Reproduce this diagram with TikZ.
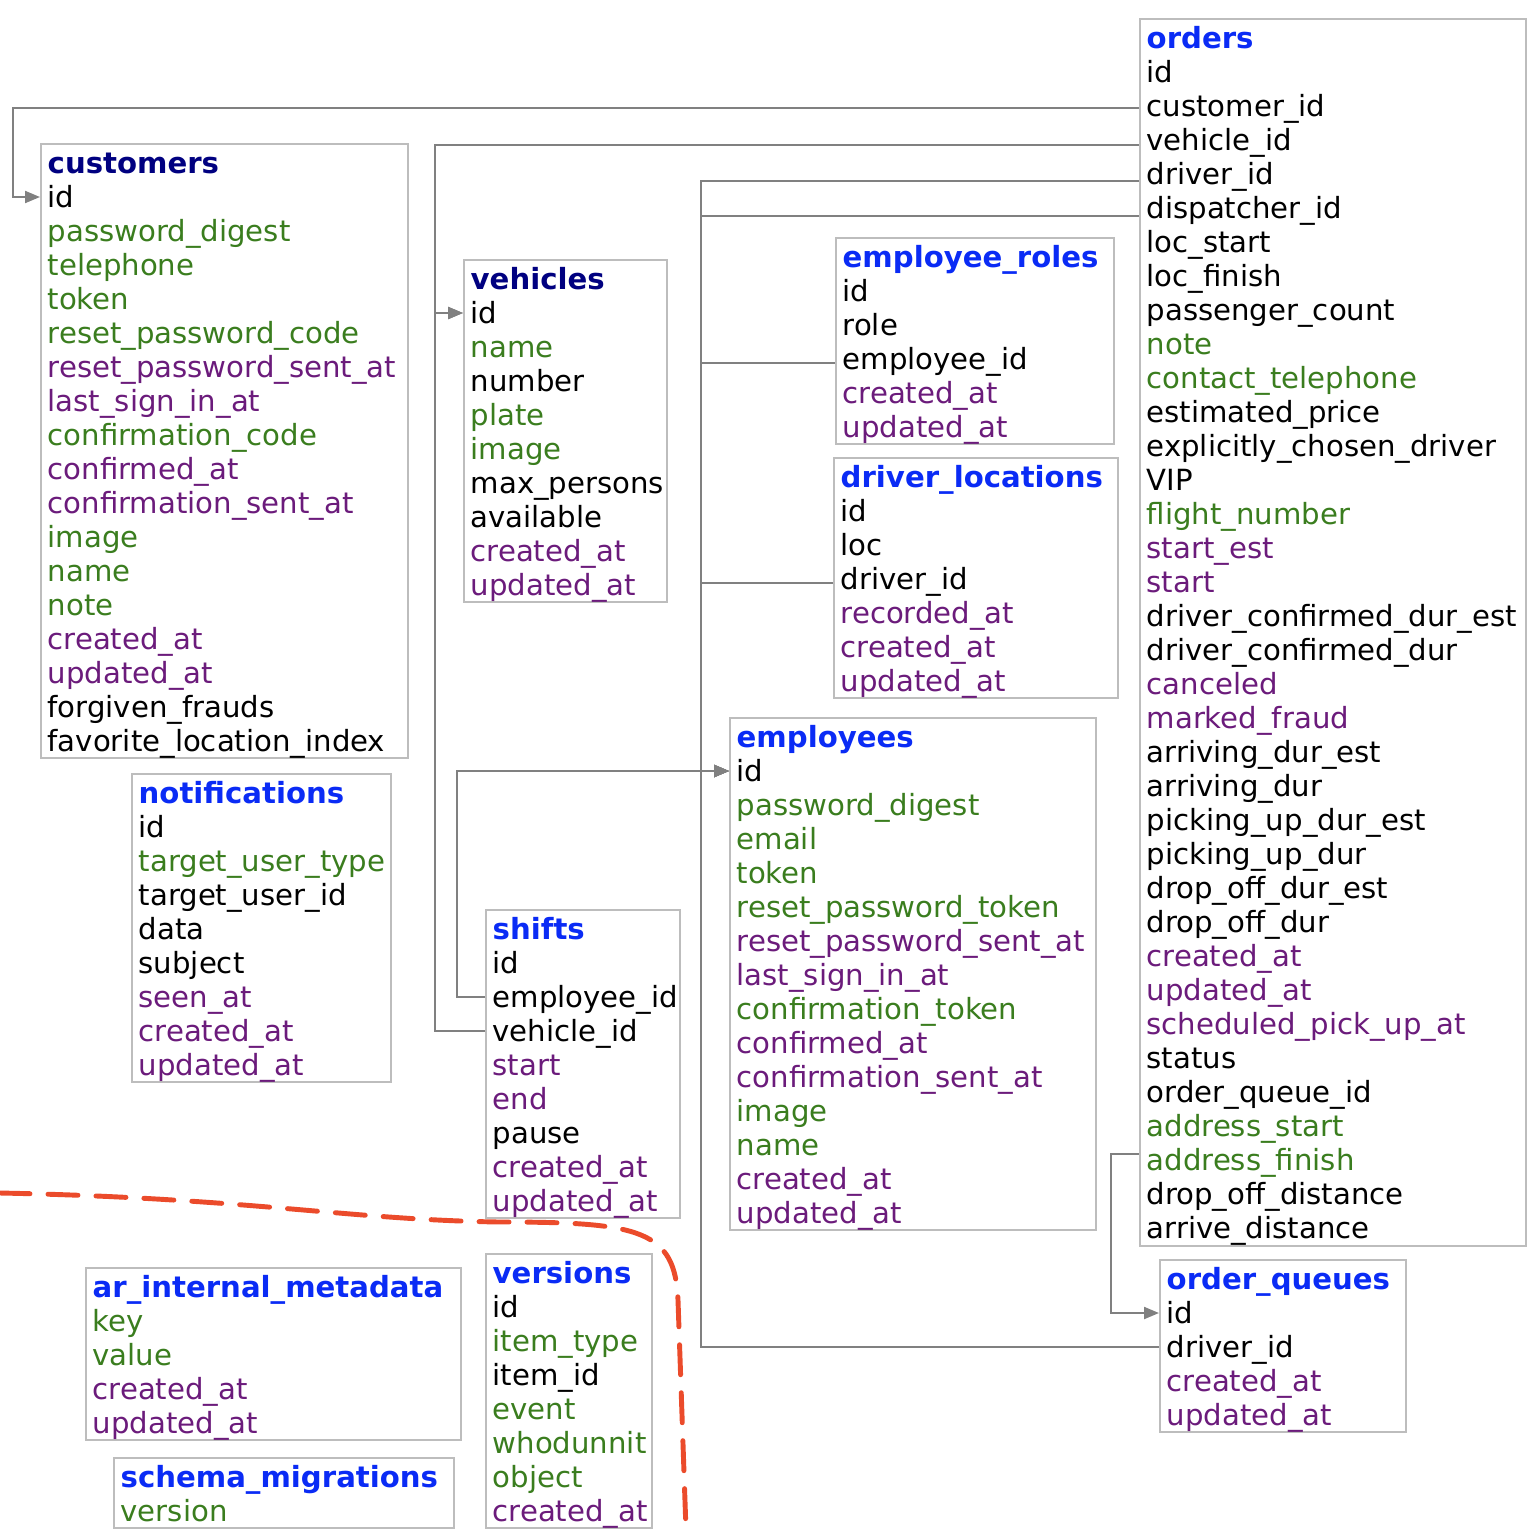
\documentclass[tikz,border=0pt]{standalone}
\usepackage{fontspec}
\setmainfont{DejaVu Sans}
\usepackage{xcolor}
\usepackage{tikz}
\usetikzlibrary{arrows.meta, calc}
\definecolor{bk}{HTML}{000000}
\definecolor{gn}{HTML}{3A7D1E}
\definecolor{pu}{HTML}{6B1B7B}
\definecolor{navy}{HTML}{000080}
\definecolor{tblue}{HTML}{0A2BF5}
\definecolor{boxgray}{HTML}{BDBDBD}
\definecolor{linkgray}{HTML}{808080}
\definecolor{cutred}{HTML}{EB4B2B}

% one table: name, left x, top y, width, height, title colour, fields
\newcommand{\erdtable}[7]{%
  \node[tablebox, minimum width=#4cm, minimum height=#5cm] (#1) at (#2,-#3) {};
  \node[fieldrow, text=#6, font=\fieldfont\bfseries] (#1-0) at ($(#1.north west)+(0.07,-0.20)$) {#1};
  \foreach \t/\c [count=\i] in {#7}
    \node[fieldrow, text=\c] (#1-\i) at ($(#1.north west)+(0.07,-0.20-0.34*\i)$) {\t};
}
\newcommand{\fieldfont}{\fontsize{8.3}{10}\selectfont}

\begin{document}
\catcode`\_=12
\begin{tikzpicture}[
  tablebox/.style={draw=boxgray, line width=0.6pt, anchor=north west, inner sep=0pt},
  fieldrow/.style={anchor=west, inner sep=0pt, text height=0.2cm, text depth=0cm, font=\fieldfont},
  link/.style={draw=linkgray, line width=0.6pt, -{Triangle[length=0.15cm, width=0.12cm]}},
  cutline/.style={draw=cutred, line width=1.4pt, dash pattern=on 0.3cm off 0.18cm, line cap=round}
]
  \useasboundingbox (0,0) rectangle (15.36,-15.38);

  \erdtable{orders}{11.39}{0.18}{3.86}{12.27}{tblue}{id/bk, customer_id/bk, vehicle_id/bk, driver_id/bk, dispatcher_id/bk, loc_start/bk, loc_finish/bk, passenger_count/bk, note/gn, contact_telephone/gn, estimated_price/bk, explicitly_chosen_driver/bk, VIP/bk, flight_number/gn, start_est/pu, start/pu, driver_confirmed_dur_est/bk, driver_confirmed_dur/bk, canceled/pu, marked_fraud/pu, arriving_dur_est/bk, arriving_dur/bk, picking_up_dur_est/bk, picking_up_dur/bk, drop_off_dur_est/bk, drop_off_dur/bk, created_at/pu, updated_at/pu, scheduled_pick_up_at/pu, status/bk, order_queue_id/bk, address_start/gn, address_finish/gn, drop_off_distance/bk, arrive_distance/bk}
  \erdtable{customers}{0.40}{1.43}{3.67}{6.14}{navy}{id/bk, password_digest/gn, telephone/gn, token/gn, reset_password_code/gn, reset_password_sent_at/pu, last_sign_in_at/pu, confirmation_code/gn, confirmed_at/pu, confirmation_sent_at/pu, image/gn, name/gn, note/gn, created_at/pu, updated_at/pu, forgiven_frauds/bk, favorite_location_index/bk}
  \erdtable{vehicles}{4.63}{2.59}{2.03}{3.42}{navy}{id/bk, name/gn, number/bk, plate/gn, image/gn, max_persons/bk, available/bk, created_at/pu, updated_at/pu}
  \erdtable{employee_roles}{8.35}{2.37}{2.78}{2.06}{tblue}{id/bk, role/bk, employee_id/bk, created_at/pu, updated_at/pu}
  \erdtable{driver_locations}{8.33}{4.57}{2.84}{2.40}{tblue}{id/bk, loc/bk, driver_id/bk, recorded_at/pu, created_at/pu, updated_at/pu}
  \erdtable{employees}{7.29}{7.17}{3.66}{5.12}{tblue}{id/bk, password_digest/gn, email/gn, token/gn, reset_password_token/gn, reset_password_sent_at/pu, last_sign_in_at/pu, confirmation_token/gn, confirmed_at/pu, confirmation_sent_at/pu, image/gn, name/gn, created_at/pu, updated_at/pu}
  \erdtable{notifications}{1.31}{7.73}{2.59}{3.08}{tblue}{id/bk, target_user_type/gn, target_user_id/bk, data/bk, subject/bk, seen_at/pu, created_at/pu, updated_at/pu}
  \erdtable{shifts}{4.85}{9.09}{1.94}{3.08}{tblue}{id/bk, employee_id/bk, vehicle_id/bk, start/pu, end/pu, pause/bk, created_at/pu, updated_at/pu}
  \erdtable{ar_internal_metadata}{0.85}{12.67}{3.75}{1.72}{tblue}{key/gn, value/gn, created_at/pu, updated_at/pu}
  \erdtable{schema_migrations}{1.13}{14.57}{3.40}{0.70}{tblue}{version/gn}
  \erdtable{versions}{4.85}{12.53}{1.66}{2.74}{tblue}{id/bk, item_type/gn, item_id/bk, event/gn, whodunnit/gn, object/gn, created_at/pu}
  \erdtable{order_queues}{11.59}{12.59}{2.46}{1.72}{tblue}{id/bk, driver_id/bk, created_at/pu, updated_at/pu}

  % foreign keys
  \draw[link] ([yshift=-0.02cm]orders.west |- orders-2) -| ([xshift=-0.27cm]customers.west |- customers-1) -- (customers.west |- customers-1);
  \draw[link] ([yshift=-0.05cm]orders.west |- orders-3) -| ([xshift=-0.28cm]vehicles.west |- vehicles-1) -- (vehicles.west |- vehicles-1);
  \draw[link] (shifts.west |- shifts-3) -| ([xshift=-0.28cm]vehicles.west |- vehicles-1) -- (vehicles.west |- vehicles-1);
  \draw[link] ([yshift=-0.07cm]orders.west |- orders-4) -| ([xshift=-0.28cm]employees.west |- employees-1) -- (employees.west |- employees-1);
  \draw[link] ([yshift=-0.08cm]orders.west |- orders-5) -| ([xshift=-0.28cm]employees.west |- employees-1) -- (employees.west |- employees-1);
  \draw[link] ([yshift=-0.04cm]employee_roles.west |- employee_roles-3) -| ([xshift=-0.28cm]employees.west |- employees-1) -- (employees.west |- employees-1);
  \draw[link] ([yshift=-0.04cm]driver_locations.west |- driver_locations-3) -| ([xshift=-0.28cm]employees.west |- employees-1) -- (employees.west |- employees-1);
  \draw[link] (order_queues.west |- order_queues-2) -| ([xshift=-0.28cm]employees.west |- employees-1) -- (employees.west |- employees-1);
  \draw[link] (shifts.west |- shifts-2) -| ([xshift=-0.28cm]shifts.west |- employees-1) -- (employees.west |- employees-1);
  \draw[link] ([yshift=0.06cm]orders.west |- orders-33) -| ([xshift=-0.28cm]orders.west |- order_queues-1) -- (order_queues.west |- order_queues-1);

  % hand-drawn cut line
  \draw[cutline] (0,-11.93) .. controls (2.5,-11.98) and (3.5,-12.2) .. (5.0,-12.22) .. controls (6.4,-12.22) and (6.75,-12.3) .. (6.78,-13.0) -- (6.86,-15.3);
\end{tikzpicture}
\end{document}
